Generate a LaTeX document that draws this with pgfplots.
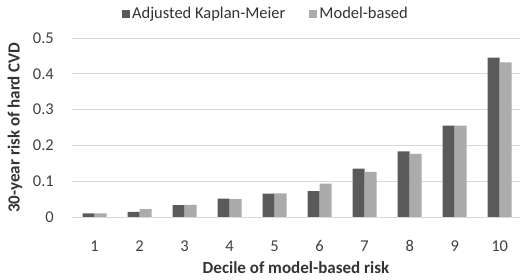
\documentclass[border=0pt]{standalone}
\usepackage{pgfplots}
\pgfplotsset{compat=1.18}
\usepackage{fontspec}
\setmainfont{Carlito}
\definecolor{dark}{HTML}{5A5A5A}
\definecolor{light}{HTML}{ABABAB}
\definecolor{gridc}{HTML}{D9D9D9}
\begin{document}
\begin{tikzpicture}[x=1pt,y=1pt]
\path[use as bounding box] (0,0) rectangle (520,280);
\begin{axis}[
  at={(72pt,63pt)}, anchor=south west,
  scale only axis, width=448pt, height=179pt,
  xmin=0.5, xmax=10.45, ymin=0, ymax=0.5,
  ybar, bar width=12pt,
  xtick={1,...,10}, ytick={0,0.1,0.2,0.3,0.4,0.5},
  yticklabels={0,0.1,0.2,0.3,0.4,0.5},
  major tick length=0pt,
  ymajorgrids, xmajorgrids=false,
  grid style={gridc, line width=0.8pt},
  axis line style={draw=none},
  tick label style={font=\fontsize{16.5}{18}\selectfont, text=black!75, inner sep=0pt},
  /pgf/number format/assume math mode=true,
  yticklabel style={anchor=east, xshift=-18pt},
  xticklabel style={anchor=center, yshift=-29pt},
  xlabel={\bfseries Decile of model-based risk},
  ylabel={\bfseries 30-year risk of hard CVD},
  label style={font=\fontsize{17}{19}\selectfont, text=black!80},
  xlabel style={at={(axis description cs:0.5,0)}, anchor=center, yshift=-51pt},
  ylabel style={at={(axis description cs:0,0.5)}, anchor=center, yshift=57pt},
  legend columns=2,
  legend style={draw=none, fill=none, at={(0.433,1)}, anchor=center, yshift=24pt,
    font=\fontsize{16.5}{18}\selectfont, text=black!80,
    nodes={inner xsep=2pt},
    /tikz/every even column/.append style={column sep=22pt}},
  legend image code/.code={\fill[#1] (0pt,-4pt) rectangle (8pt,4pt);},
  clip=false,
]
\addplot[fill=dark, draw=none, bar shift=-6pt] coordinates {
(1,0.010) (2,0.014) (3,0.033) (4,0.051) (5,0.065) (6,0.072) (7,0.135) (8,0.183) (9,0.255) (10,0.445)};
\addlegendentry{Adjusted Kaplan-Meier}
\addplot[fill=light, draw=none, bar shift=6pt] coordinates {
(1,0.010) (2,0.022) (3,0.034) (4,0.050) (5,0.066) (6,0.093) (7,0.126) (8,0.176) (9,0.255) (10,0.432)};
\addlegendentry{Model-based}
\draw[gridc, line width=0.8pt] (axis cs:0.5,0) -- (axis cs:10.45,0);
\end{axis}
\end{tikzpicture}
\end{document}
